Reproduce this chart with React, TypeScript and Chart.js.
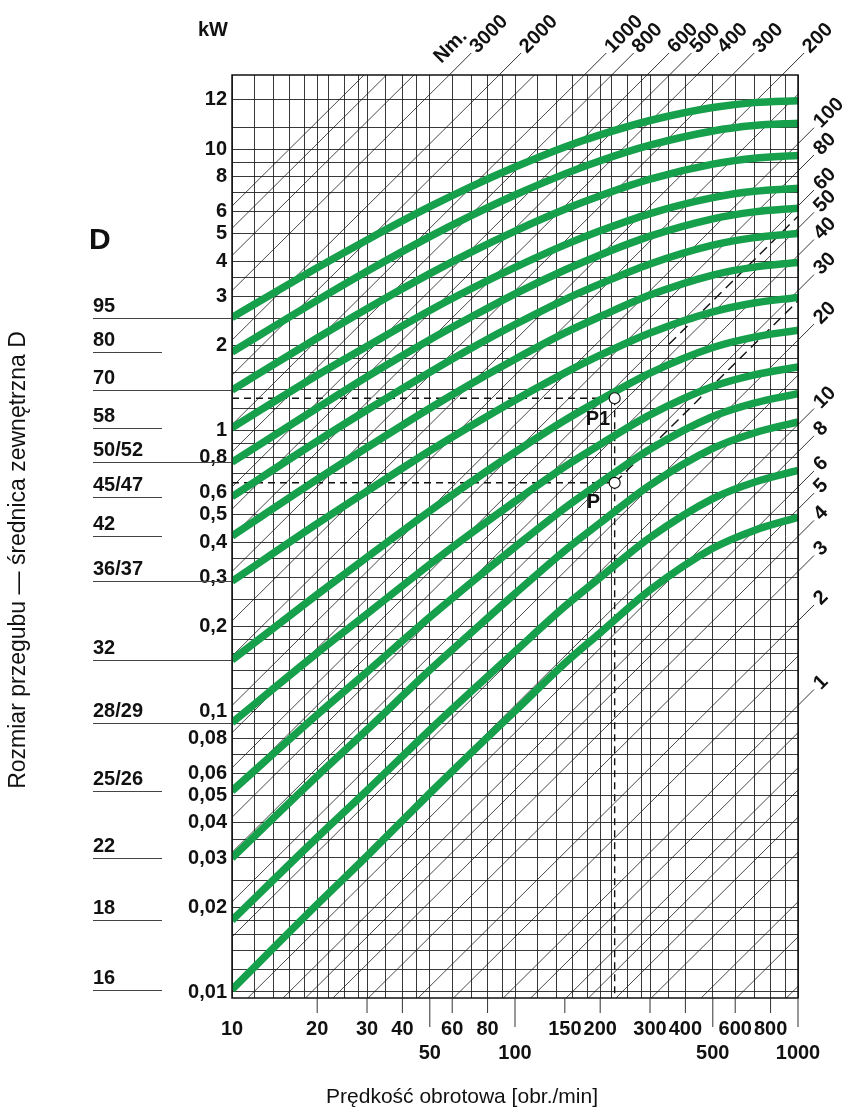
import React, { useEffect, useRef } from 'react';
import { Chart, registerables } from 'chart.js';

Chart.register(...registerables);

// ---- data -------------------------------------------------------------
const speeds = [10, 20, 30, 50, 70, 100, 150, 200, 300, 500, 700, 1000];

const powerD95 = [2.52, 3.79, 4.76, 6.25, 7.37, 8.65, 10.2, 11.26, 12.67, 14.09, 14.67, 14.9];
const powerD80 = [1.9, 2.9, 3.68, 4.89, 5.81, 6.88, 8.18, 9.11, 10.35, 11.63, 12.16, 12.39];
const powerD70 = [1.39, 2.13, 2.71, 3.61, 4.31, 5.12, 6.12, 6.84, 7.84, 8.86, 9.3, 9.51];
const powerD58 = [1.02, 1.57, 1.99, 2.67, 3.19, 3.8, 4.57, 5.13, 5.91, 6.73, 7.09, 7.27];
const powerD50 = [0.77, 1.2, 1.55, 2.1, 2.53, 3.06, 3.72, 4.21, 4.91, 5.66, 5.99, 6.17];
const powerD45 = [0.58, 0.914, 1.18, 1.61, 1.96, 2.38, 2.92, 3.32, 3.91, 4.56, 4.85, 5.02];
const powerD42 = [0.42, 0.668, 0.868, 1.198, 1.464, 1.79, 2.22, 2.54, 3.03, 3.57, 3.81, 3.96];
const powerD36 = [0.29, 0.465, 0.607, 0.845, 1.038, 1.28, 1.6, 1.85, 2.22, 2.64, 2.84, 2.97];
const powerD32 = [0.152, 0.26, 0.353, 0.516, 0.655, 0.835, 1.085, 1.283, 1.598, 1.97, 2.146, 2.27];
const powerD28 = [0.091, 0.161, 0.222, 0.333, 0.43, 0.558, 0.742, 0.89, 1.134, 1.431, 1.574, 1.68];
const powerD25 = [0.052, 0.0971, 0.138, 0.216, 0.287, 0.384, 0.529, 0.65, 0.856, 1.119, 1.249, 1.35];
const powerD22 = [0.03, 0.0587, 0.0858, 0.14, 0.19, 0.262, 0.373, 0.468, 0.638, 0.862, 0.978, 1.07];
const powerD18 = [0.018, 0.0355, 0.0522, 0.0857, 0.1175, 0.163, 0.236, 0.299, 0.415, 0.571, 0.653, 0.72];
const powerD16 = [0.0102, 0.0205, 0.0305, 0.051, 0.071, 0.1, 0.148, 0.19, 0.27, 0.38, 0.44, 0.49];

const dLabels = ['95', '80', '70', '58', '50/52', '45/47', '42', '36/37', '32', '28/29', '25/26', '22', '18', '16'];
const dLongRule = [true, false, true, false, true, false, false, true, true, true, false, false, false, false];

// constant-torque lines [Nm]
const torqueLines = [6000, 5000, 4000, 3000, 2000, 1500, 1000, 800, 600, 500, 400, 300, 200, 150, 100, 80, 60, 50, 40, 30, 20, 15, 10, 8, 6, 5, 4, 3, 2, 1.5, 1, 0.8, 0.6, 0.5, 0.4, 0.3, 0.2, 0.15, 0.1];
const torqueTopLabels = [3000, 2000, 1000, 800, 600, 500, 400, 300, 200];
const torqueRightLabels = [100, 80, 60, 50, 40, 30, 20, 10, 8, 6, 5, 4, 3, 2, 1];

const kwTickValues = [15, 10, 8, 6, 5, 4, 3, 2, 1, 0.8, 0.6, 0.5, 0.4, 0.3, 0.2, 0.1, 0.08, 0.06, 0.05, 0.04, 0.03, 0.02, 0.01];
const kwTickLabels = ['12', '10', '8', '6', '5', '4', '3', '2', '1', '0,8', '0,6', '0,5', '0,4', '0,3', '0,2', '0,1', '0,08', '0,06', '0,05', '0,04', '0,03', '0,02', '0,01'];

const speedTicksRow1 = [10, 20, 30, 40, 60, 80, 150, 200, 300, 400, 600, 800];
const speedTicksRow2 = [50, 100, 500, 1000];

const speedGrid = [10, 12, 14, 16, 18, 20, 22, 25, 28, 30, 35, 40, 45, 50, 60, 70, 80, 90, 100, 120, 140, 160, 180, 200, 220, 250, 280, 300, 350, 400, 500, 600, 700, 800, 900, 1000];
const powerGrid = [
  0.01, 0.012, 0.014, 0.016, 0.018, 0.02, 0.025, 0.03, 0.035, 0.04, 0.05, 0.06, 0.07, 0.08, 0.09,
  0.1, 0.12, 0.14, 0.16, 0.18, 0.2, 0.25, 0.3, 0.35, 0.4, 0.5, 0.6, 0.7, 0.8, 0.9,
  1, 1.2, 1.4, 1.6, 1.8, 2, 2.5, 3, 3.5, 4, 5, 6, 7, 8, 9,
  10, 12, 15,
];

const speedMin = 10;
const speedMax = 1000;
const powerMin = 0.00952;
const powerMax = 18.4;

// worked example points
const exampleSpeed = 225;
const examplePowerP1 = 1.3;
const examplePowerP = 0.65;
const exampleP1LineStart = 350;

const TORQUE_K = 9550; // P[kW] = T[Nm] * n[rpm] / 9550

const curveSets = [powerD95, powerD80, powerD70, powerD58, powerD50, powerD45, powerD42, powerD36, powerD32, powerD28, powerD25, powerD22, powerD18, powerD16];

const FONT = '"Liberation Sans", Arial, Helvetica, sans-serif';

export default function App() {
  const ref = useRef<HTMLCanvasElement>(null);

  useEffect(() => {
    const canvas = ref.current;
    if (!canvas) return;
    const green = '#17a04c';
    const datasets: any[] = [];

    torqueLines.forEach((T) => {
      datasets.push({
        data: [
          { x: speedMin, y: (T * speedMin) / TORQUE_K },
          { x: speedMax, y: (T * speedMax) / TORQUE_K },
        ],
        borderColor: '#1c1c1c',
        borderWidth: 0.8,
        pointRadius: 0,
        tension: 0,
        clip: 0,
        order: 6,
      });
    });

    const dash = { borderColor: '#111', borderWidth: 1.4, borderDash: [7, 5], pointRadius: 0, tension: 0, clip: 0, order: 4 };
    datasets.push({ ...dash, data: [{ x: speedMin, y: examplePowerP1 }, { x: exampleSpeed, y: examplePowerP1 }] });
    datasets.push({ ...dash, data: [{ x: speedMin, y: examplePowerP }, { x: exampleSpeed, y: examplePowerP }] });
    datasets.push({ ...dash, data: [{ x: exampleSpeed, y: examplePowerP1 }, { x: exampleSpeed, y: powerMin }] });
    datasets.push({
      ...dash,
      borderDash: [10, 6],
      data: [
        { x: exampleSpeed, y: examplePowerP },
        { x: speedMax, y: (examplePowerP * speedMax) / exampleSpeed },
      ],
    });
    datasets.push({
      ...dash,
      borderDash: [10, 6],
      data: [
        { x: exampleP1LineStart, y: (examplePowerP1 * exampleP1LineStart) / exampleSpeed },
        { x: speedMax, y: (examplePowerP1 * speedMax) / exampleSpeed },
      ],
    });

    curveSets.forEach((arr) => {
      datasets.push({
        data: speeds.map((n, i) => ({ x: n, y: arr[i] })),
        borderColor: green,
        borderWidth: 7.5,
        borderCapStyle: 'butt',
        pointRadius: 0,
        cubicInterpolationMode: 'monotone',
        order: 2,
      });
    });

    datasets.push({
      data: [
        { x: exampleSpeed, y: examplePowerP1 },
        { x: exampleSpeed, y: examplePowerP },
      ],
      showLine: false,
      pointRadius: 5.5,
      pointBackgroundColor: '#fff',
      pointBorderColor: '#111',
      pointBorderWidth: 1.2,
      order: 0,
    });

    const overlay = {
      id: 'overlay',
      afterDraw(chart: any) {
        const { ctx, chartArea: a } = chart;
        const xs = chart.scales.x;
        const ys = chart.scales.y;
        ctx.save();
        // frame
        ctx.strokeStyle = '#111';
        ctx.lineWidth = 1.5;
        ctx.strokeRect(a.left, a.top, a.right - a.left, a.bottom - a.top);

        ctx.fillStyle = '#111';
        // kW & D
        ctx.font = `bold 20px ${FONT}`;
        ctx.textAlign = 'left';
        ctx.textBaseline = 'middle';
        ctx.fillText('kW', 198, 30);
        ctx.font = `bold 30px ${FONT}`;
        ctx.fillText('D', 89, 241);

        // y tick labels
        ctx.font = `bold 20px ${FONT}`;
        ctx.textAlign = 'right';
        kwTickValues.forEach((v, i) => {
          ctx.fillText(kwTickLabels[i], a.left - 5, ys.getPixelForValue(v));
        });

        // D labels with rules
        ctx.font = `bold 20px ${FONT}`;
        ctx.textAlign = 'left';
        ctx.textBaseline = 'alphabetic';
        ctx.strokeStyle = '#444';
        ctx.lineWidth = 1;
        curveSets.forEach((arr, i) => {
          const py = Math.round(ys.getPixelForValue(arr[0])) + 0.5;
          ctx.beginPath();
          ctx.moveTo(93, py);
          ctx.lineTo(dLongRule[i] ? a.left : 162, py);
          ctx.stroke();
          ctx.fillText(dLabels[i], 93, py - 7);
        });

        // x tick labels & marks
        ctx.font = `bold 20px ${FONT}`;
        ctx.textAlign = 'center';
        ctx.textBaseline = 'middle';
        ctx.strokeStyle = '#333';
        ctx.lineWidth = 1;
        speedTicksRow1.forEach((v) => {
          const px = xs.getPixelForValue(v);
          if (v !== speedMin) {
            ctx.beginPath();
            ctx.moveTo(px, a.bottom);
            ctx.lineTo(px, a.bottom + 15);
            ctx.stroke();
          }
          ctx.fillText(String(v), px, a.bottom + 31);
        });
        speedTicksRow2.forEach((v) => {
          const px = xs.getPixelForValue(v);
          ctx.beginPath();
          ctx.moveTo(px, a.bottom);
          ctx.lineTo(px, a.bottom + 29);
          ctx.stroke();
          ctx.fillText(String(v), px, a.bottom + 55);
        });

        // torque labels
        ctx.strokeStyle = '#1c1c1c';
        ctx.lineWidth = 0.9;
        ctx.font = `bold 20px ${FONT}`;
        const drawRot = (text: string, sx: number, sy: number) => {
          ctx.save();
          ctx.translate(sx, sy);
          ctx.rotate(-Math.PI / 4);
          ctx.textAlign = 'left';
          ctx.textBaseline = 'middle';
          ctx.fillText(text, 0, 0);
          ctx.restore();
        };
        torqueTopLabels.forEach((T) => {
          const n = (powerMax * TORQUE_K) / T;
          const px = xs.getPixelForValue(n);
          const py = a.top;
          ctx.beginPath();
          ctx.moveTo(px, py);
          ctx.lineTo(px + 22, py - 22);
          ctx.stroke();
          drawRot(String(T), px + 24, py - 25);
          if (T === torqueTopLabels[0]) drawRot('Nm.', px - 12, py - 15);
        });
        torqueRightLabels.forEach((T) => {
          const py = ys.getPixelForValue((T * speedMax) / TORQUE_K);
          const px = a.right;
          ctx.beginPath();
          ctx.moveTo(px, py);
          ctx.lineTo(px + 16, py - 16);
          ctx.stroke();
          drawRot(String(T), px + 19, py - 19);
        });

        // P labels
        ctx.font = `bold 20px ${FONT}`;
        ctx.textAlign = 'left';
        ctx.textBaseline = 'middle';
        const ex = xs.getPixelForValue(exampleSpeed);
        ctx.fillText('P1', ex - 29, ys.getPixelForValue(examplePowerP1) + 21);
        ctx.fillText('P', ex - 28, ys.getPixelForValue(examplePowerP) + 20);

        // axis titles
        ctx.font = `21px ${FONT}`;
        ctx.textAlign = 'center';
        ctx.fillText('Prędkość obrotowa [obr./min]', 462, 1097);
        ctx.save();
        ctx.translate(19, 560);
        ctx.rotate(-Math.PI / 2);
        ctx.font = `23px ${FONT}`;
        ctx.fillText('Rozmiar przegubu — średnica zewnętrzna D', 0, 0);
        ctx.restore();
        ctx.restore();
      },
    };

    const chart = new Chart(canvas, {
      type: 'line',
      data: { datasets },
      options: {
        responsive: false,
        animation: false,
        devicePixelRatio: 1,
        events: [],
        layout: { padding: { left: 232, top: 75, right: 47, bottom: 112 } },
        plugins: { legend: { display: false }, tooltip: { enabled: false } },
        scales: {
          x: {
            type: 'logarithmic',
            min: speedMin,
            max: speedMax,
            afterBuildTicks: (s: any) => {
              s.ticks = speedGrid.map((v) => ({ value: v }));
            },
            afterFit: (s: any) => {
              s.height = 0;
            },
            ticks: { display: false },
            grid: { color: '#222', lineWidth: 0.9, drawTicks: false },
            border: { display: false },
          },
          y: {
            type: 'logarithmic',
            min: powerMin,
            max: powerMax,
            afterBuildTicks: (s: any) => {
              s.ticks = powerGrid.map((v) => ({ value: v }));
            },
            afterFit: (s: any) => {
              s.width = 0;
            },
            ticks: { display: false },
            grid: { color: '#222', lineWidth: 0.9, drawTicks: false },
            border: { display: false },
          },
        },
      } as any,
      plugins: [overlay],
    });
    return () => chart.destroy();
  }, []);

  return (
    <div style={{ position: 'fixed', left: 0, top: 0, width: 845, height: 1110, background: '#fff' }}>
      <canvas ref={ref} width={845} height={1110} style={{ display: 'block', width: 845, height: 1110 }} />
    </div>
  );
}
